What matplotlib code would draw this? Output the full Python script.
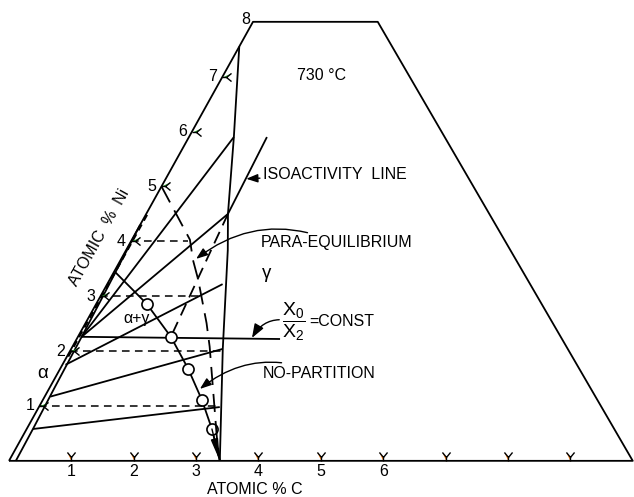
import numpy as np
import matplotlib
matplotlib.use('Agg')
from matplotlib import pyplot as plt
from matplotlib.transforms import Affine2D
from matplotlib.path import Path
from matplotlib.markers import MarkerStyle

plt.rcParams['font.family'] = ['Liberation Sans', 'DejaVu Sans']
plt.rcParams['mathtext.fontset'] = 'custom'
plt.rcParams['mathtext.rm'] = 'Liberation Sans'
plt.rcParams['mathtext.it'] = 'Liberation Sans:italic'

#------------------------------------------------------------
# Fe-Ni-C corner at 730 C.  Every point is (atomic % C, atomic % Ni)
c_ticks = [1, 2, 3, 4, 5, 6, 7, 8, 9]
c_labels = ['1', '2', '3', '4', '5', '6']
ni_ticks = [1, 2, 3, 4, 5, 6, 7]
ni_max = 8
c_max = 10          # right hand edge is C + Ni = 10

# alpha / (alpha+gamma) boundary
alpha_c = [0.11, 0.10, 0.08, 0.06, 0.04, 0.0]
alpha_ni = [0.0, 0.6, 1.3, 2.26, 3.0, 4.3]

# gamma / (alpha+gamma) boundary
gamma_c = [3.38, 2.43, 1.63, 1.31, 0.72, 0.0]
gamma_ni = [0.0, 2.04, 3.84, 4.50, 5.90, 7.55]

# tie lines, alpha end -> gamma end
tie_c = [(0.10, 2.90), (0.09, 2.43), (0.05, 1.85), (0.06, 1.31), (0.06, 0.72)]
tie_ni = [(0.58, 0.98), (1.17, 2.04), (1.75, 3.22), (2.26, 4.50), (2.26, 5.90)]

# X0/X2 = const line
ratio_c = [0.06, 3.26]
ratio_ni = [2.26, 2.22]

# isoactivity line (gamma side) and its continuation into alpha+gamma
iso_c = [1.25, 1.31]
iso_ni = [5.90, 4.50]
iso_ext_c = [1.31, 1.49]
iso_ext_ni = [4.50, 2.26]

# no-partition curve with the computed points
nop_c = [0.02, 0.81, 1.49, 2.05, 2.55, 2.97, 3.38]
nop_ni = [3.44, 2.86, 2.26, 1.68, 1.11, 0.58, 0.0]

# para-equilibrium boundary
para_c = [0.0, 0.93, 1.16, 1.42, 1.94, 2.20, 3.15, 3.38]
para_ni = [5.0, 4.03, 3.66, 3.30, 2.51, 2.08, 0.38, 0.0]

# constant Ni guide lines and where they stop
level_ni = [1, 2, 3, 4]
level_c_end = [2.90, 2.45, 1.62, 0.92]

#------------------------------------------------------------
fig = plt.figure(figsize=(6.34, 4.97), dpi=100)
ax = fig.add_axes([0, 0, 1, 1])
ax.set_xlim(-0.144, 10.02)
ax.set_ylim(-0.58, 7.39)
ax.axis('off')

# triangular (C, Ni) -> cartesian
tern = Affine2D().from_values(1, 0, 0.489, 0.88, 0, 0) + ax.transData

LW = 1.3
kw = dict(color='black', lw=LW, transform=tern, solid_capstyle='butt')

# frame of the section
ax.plot([0, 0, c_max - ni_max, c_max, 0], [0, ni_max, ni_max, 0, 0], **kw)

ax.plot(alpha_c, alpha_ni, **kw)
ax.plot([0.02, 0.02], [1.9, 4.5], color='black', lw=1.6, ls=(0, (3, 2)),
        transform=tern)
ax.plot(gamma_c, gamma_ni, **kw)

for c, ni in zip(tie_c, tie_ni):
    ax.plot(c, ni, **kw)
ax.plot(ratio_c, ratio_ni, **kw)
ax.plot(iso_c, iso_ni, **kw)
ax.plot(iso_ext_c, iso_ext_ni, color='black', lw=LW, ls=(0, (7, 4)),
        transform=tern)

ax.plot(nop_c, nop_ni, **kw)
ax.plot(nop_c[1:-1], nop_ni[1:-1], ls='none', marker='o', ms=8,
        mfc='white', mec='black', mew=1.2, transform=tern)
ax.annotate('', xy=(nop_c[-1], nop_ni[-1]), xycoords=tern,
            xytext=(nop_c[-2], nop_ni[-2]), textcoords=tern,
            arrowprops=dict(arrowstyle='-|>,head_length=1.3,head_width=0.22',
                            color='black', lw=1, shrinkA=0, shrinkB=0))

ax.plot(para_c, para_ni, color='black', lw=LW, ls=(0, (10, 5)),
        transform=tern)

for ni, c_end in zip(level_ni, level_c_end):
    ax.plot([0, c_end], [ni, ni], color='black', lw=1.1, ls=(0, (5, 3.5)),
            transform=tern)

#------------------------------------------------------------
# Y shaped ticks
ytick = Path([(0, 0), (0, 0.45), (-0.45, 1), (0, 0.45), (0.45, 1)],
             [Path.MOVETO, Path.LINETO, Path.LINETO, Path.MOVETO, Path.LINETO])
ax.plot(c_ticks, np.zeros(len(c_ticks)), ls='none',
        marker=MarkerStyle(ytick), ms=13, mec='black', mew=1.0,
        transform=tern)
ax.plot(np.zeros(len(ni_ticks)), ni_ticks, ls='none',
        marker=MarkerStyle(ytick, transform=Affine2D().rotate_deg(-90)),
        ms=13, mec='black', mew=1.0, transform=tern)

FS = 11.5
for c, lab in zip(c_ticks, c_labels):
    ax.annotate(lab, xy=(c, 0), xycoords=tern, xytext=(0, -8),
                textcoords='offset points', ha='center', va='center',
                fontsize=FS)
for ni in ni_ticks:
    ax.annotate(str(ni), xy=(0, ni), xycoords=tern, xytext=(-7, 0),
                textcoords='offset points', ha='center', va='center',
                fontsize=FS)
ax.annotate(str(ni_max), xy=(0, ni_max), xycoords=tern, xytext=(-5, 2),
            textcoords='offset points', ha='center', va='center',
            fontsize=FS)

ax.text(4.2, -0.53, 'ATOMIC % C', transform=tern, ha='center',
        va='center', fontsize=FS)
ang = np.degrees(np.arctan2(0.88, 0.489))
ax.text(-0.53, 4.06, 'ATOMIC  %  Ni', transform=tern, ha='center',
        va='center', rotation=ang, rotation_mode='anchor', fontsize=FS)

ax.text(1.58, 7.03, '730 °C', transform=tern, ha='center', va='center',
        fontsize=FS)
ax.text(2.46, 3.42, 'γ', transform=tern, ha='center', va='center',
        fontsize=FS + 2)
ax.text(0.78, 2.60, 'α+γ', transform=tern, ha='center', va='center',
        fontsize=FS)
ax.text(-0.25, 1.60, 'α', transform=tern, ha='center', va='center',
        fontsize=FS + 2)

arrow = dict(arrowstyle='-|>,head_length=0.6,head_width=0.22',
             color='black', lw=1.0, shrinkA=0, shrinkB=0)
ax.annotate('ISOACTIVITY  LINE', xy=(1.29, 5.14), xycoords=tern,
            xytext=(1.52, 5.21), textcoords=tern, ha='left', va='center',
            fontsize=FS, arrowprops=arrow)
ax.annotate('PARA-EQUILIBRIUM', xy=(1.20, 3.68), xycoords=tern,
            xytext=(2.10, 3.97), textcoords=tern, ha='left', va='center',
            fontsize=FS,
            arrowprops=dict(arrow, connectionstyle='arc3,rad=0.3'))
ax.annotate('NO-PARTITION', xy=(2.42, 1.31), xycoords=tern,
            xytext=(3.29, 1.60), textcoords=tern, ha='left', va='center',
            fontsize=FS,
            arrowprops=dict(arrow, connectionstyle='arc3,rad=0.3'))
ax.annotate(r'$\dfrac{\mathrm{X}_0}{\mathrm{X}_2}$', xy=(2.80, 2.24),
            xycoords=tern, xytext=(3.14, 2.53), textcoords=tern,
            ha='left', va='center', fontsize=14,
            arrowprops=dict(arrow, connectionstyle='arc3,rad=0.4'))
ax.text(3.58, 2.53, '=CONST', transform=tern, ha='left', va='center',
        fontsize=FS)

fig.savefig('out.png', dpi=100, facecolor='white')
